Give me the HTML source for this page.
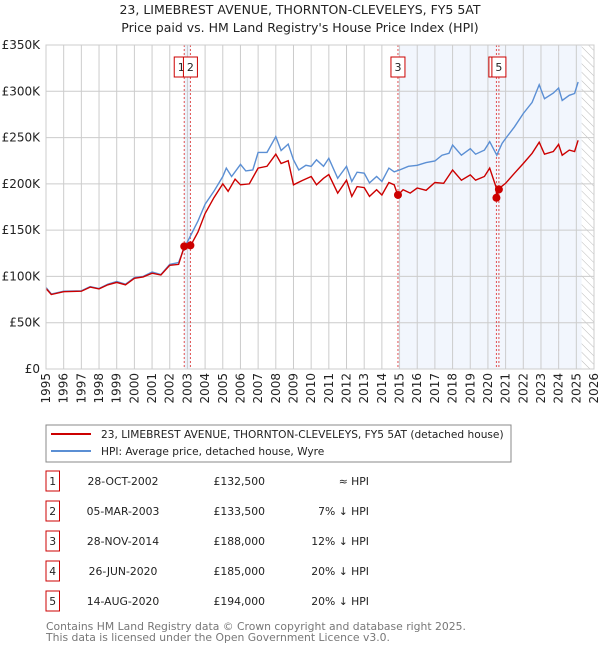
<!DOCTYPE html>
<html><head><meta charset="utf-8">
<style>
body{margin:0;background:#fff;font-family:"Liberation Sans","DejaVu Sans",sans-serif;}
svg text{font-family:"DejaVu Sans","Liberation Sans",sans-serif;}
</style></head>
<body>
<svg id="chart" width="600" height="650" xmlns="http://www.w3.org/2000/svg">
<text x="300" y="14" text-anchor="middle" font-size="12.5" fill="#222">23, LIMEBREST AVENUE, THORNTON-CLEVELEYS, FY5 5AT</text>
<text x="300" y="32" text-anchor="middle" font-size="12.5" fill="#222">Price paid vs. HM Land Registry's House Price Index (HPI)</text>
<g id="plot"></g>
<g id="legend">
<rect x="46" y="425" width="465" height="37" fill="#fff" stroke="#888"/>
<line x1="51" y1="434" x2="91" y2="434" stroke="#cc0000" stroke-width="2"/>
<text x="101" y="438" font-size="10.6" fill="#222">23, LIMEBREST AVENUE, THORNTON-CLEVELEYS, FY5 5AT (detached house)</text>
<line x1="51" y1="451" x2="91" y2="451" stroke="#5b8fd4" stroke-width="2"/>
<text x="101" y="455" font-size="10.6" fill="#222">HPI: Average price, detached house, Wyre</text>
</g>
<g id="table"></g>
<text x="46" y="630" font-size="10.8" fill="#777">Contains HM Land Registry data © Crown copyright and database right 2025.</text>
<text x="46" y="641" font-size="10.8" fill="#777">This data is licensed under the Open Government Licence v3.0.</text>
</svg>
<script>
const hpiT=[1995.0,1995.3,1996,1997,1997.5,1998,1998.5,1999,1999.5,2000,2000.5,2001,2001.5,2002,2002.5,2002.8,2003.2,2003.6,2004,2004.5,2005,2005.2,2005.5,2006,2006.3,2006.7,2007,2007.5,2008,2008.3,2008.7,2009,2009.3,2009.7,2010,2010.3,2010.7,2011,2011.5,2012,2012.3,2012.6,2013,2013.3,2013.7,2014,2014.4,2014.7,2015,2015.5,2016,2016.5,2017,2017.4,2017.8,2018,2018.5,2019,2019.3,2019.8,2020.1,2020.5,2020.8,2021,2021.5,2022,2022.5,2022.9,2023.2,2023.7,2024,2024.2,2024.6,2024.9,2025.1];
const hpiV=[88,81,84,84.5,89,87,91.6,94.5,91.6,98.8,100,104.8,102,113,115,130,145,160,178,192,208,217,208,221,214,215,234,234,251,236,243,226,215,220,219,226,219,227.6,206,219,202.6,212.6,211.5,201,208,202.6,217,213,215,219,220,223,224.7,231,233,242,231,238,232,236.5,245.5,231,243.7,249,261.6,276,288,307,292,298,303.6,290,295.7,297.6,310];
const redT=[1995.0,1995.3,1996,1997,1997.5,1998,1998.5,1999,1999.5,2000,2000.5,2001,2001.5,2002,2002.5,2002.8,2003.2,2003.6,2004,2004.5,2005,2005.3,2005.7,2006,2006.5,2007,2007.5,2008,2008.3,2008.7,2009,2009.5,2010,2010.3,2010.7,2011,2011.5,2012,2012.3,2012.6,2013,2013.3,2013.7,2014,2014.4,2014.7,2014.9,2015.2,2015.6,2016,2016.5,2017,2017.5,2018,2018.5,2019,2019.3,2019.8,2020.1,2020.45,2020.5,2020.6,2021,2021.5,2022,2022.5,2022.9,2023.2,2023.7,2024,2024.2,2024.6,2024.9,2025.1];
const redV=[87,80.5,83.5,84,88.5,86.5,91,93.5,91,98,99.5,103.5,101.5,112,113,131,134,148,168,185,200,192,205,199,200,217,219,232,222,225,199,203.6,208,199,206,210,190,204,186.5,197,196,186.5,193.7,188,201.5,199,187.5,193.7,190,195.5,193,201.5,200.6,215,204,209.7,204,208,217,197,185,194.6,200.6,211.5,222,233,245,232,235,242.6,231,236.5,235,247];
const saleLabels=["1","2","3","4","5"];
const saleT=[2002.82,2003.17,2014.91,2020.48,2020.62];
const saleV=[132.5,133.5,188,185,194];
const saleDates=["28-OCT-2002","05-MAR-2003","28-NOV-2014","26-JUN-2020","14-AUG-2020"];
const salePrices=["£132,500","£133,500","£188,000","£185,000","£194,000"];
const saleRel=["≈ HPI","7% ↓ HPI","12% ↓ HPI","20% ↓ HPI","20% ↓ HPI"];
const yTicks=[0,50,100,150,200,250,300,350];
const yTickLabels=["£0","£50K","£100K","£150K","£200K","£250K","£300K","£350K"];
const xYears=[1995,1996,1997,1998,1999,2000,2001,2002,2003,2004,2005,2006,2007,2008,2009,2010,2011,2012,2013,2014,2015,2016,2017,2018,2019,2020,2021,2022,2023,2024,2025,2026];

const X0=46,X1=594,Y0=369,Y1=45;
const xs=t=>X0+(t-1995)/(2026-1995)*(X1-X0);
const ys=v=>Y0-(v/350)*(Y0-Y1);
const NS="http://www.w3.org/2000/svg";
const plot=document.getElementById('plot');
function mk(tag,attrs,parent){const e=document.createElementNS(NS,tag);for(const k in attrs)e.setAttribute(k,attrs[k]);(parent||plot).appendChild(e);return e;}

let r=mk('rect',{x:xs(saleT[0]),y:Y1,width:xs(saleT[1])-xs(saleT[0]),height:Y0-Y1,fill:'#eef3fc'});


r=mk('rect',{x:xs(saleT[2]),y:Y1,width:xs(2025.3)-xs(saleT[2]),height:Y0-Y1,fill:'#f2f6fd'});


const defs=mk('defs',{});
const pat=mk('pattern',{id:'hatch',width:6,height:6,patternUnits:'userSpaceOnUse',patternTransform:'rotate(-45)'},defs);
mk('line',{x1:0,y1:0,x2:0,y2:6,stroke:'#bbb','stroke-width':1},pat);
r=mk('rect',{x:xs(2025.3),y:Y1,width:X1-xs(2025.3),height:Y0-Y1,fill:'url(#hatch)'});


yTicks.forEach((v,i)=>{
 const l=mk('line',{x1:X0,x2:X1,y1:ys(v),y2:ys(v),stroke:'#ccc','stroke-width':1});
 
 
 const t=mk('text',{x:X0-6,y:ys(v)+4,'text-anchor':'end','font-size':12,fill:'#222'});
 t.textContent=yTickLabels[i];
 
 
});
xYears.forEach(yr=>{
 const l=mk('line',{x1:xs(yr),x2:xs(yr),y1:Y1,y2:Y0,stroke:'#ccc','stroke-width':1});
 
 
 const t=mk('text',{x:0,y:0,'text-anchor':'end','font-size':12,fill:'#222',transform:`translate(${xs(yr)+4},${Y0+4}) rotate(-90)`});
 t.textContent=yr;
 
 
});
saleT.forEach((t,i)=>{
 const l=mk('line',{x1:xs(t),x2:xs(t),y1:Y1,y2:Y0,stroke:'#e05050','stroke-width':1,'stroke-dasharray':'2,2'});
 
 
});
function path(T,V){return T.map((t,i)=>(i?'L':'M')+xs(t).toFixed(1)+','+ys(V[i]).toFixed(1)).join('');}
let p=mk('path',{d:path(hpiT,hpiV),fill:'none',stroke:'#5b8fd4','stroke-width':1.4});


p=mk('path',{d:path(redT,redV),fill:'none',stroke:'#cc0000','stroke-width':1.4});


saleT.forEach((t,i)=>{
 const c=mk('circle',{cx:xs(t),cy:ys(saleV[i]),r:4,fill:'#cc0000'});
 
 
});
saleT.forEach((t,i)=>{
 if(i===3)return;
 const bx=xs(t)-(i===0?10:7);
 const g=mk('g',{});
 
 
 if(i===4) mk('rect',{x:bx-3,y:57,width:14,height:20,fill:'#fff',stroke:'#cc0000'},g);
 mk('rect',{x:bx,y:57,width:14,height:20,fill:'#fff',stroke:'#cc0000'},g);
 const tx=mk('text',{x:bx+7,y:71,'text-anchor':'middle','font-size':11,fill:'#222'},g);
 tx.textContent=saleLabels[i];
});
mk('rect',{x:X0,y:Y1,width:X1-X0,height:Y0-Y1,fill:'none',stroke:'#ccc'});
const tb=document.getElementById('table');
saleLabels.forEach((lab,i)=>{
 const y=483+i*30;
 const g=mk('g',{},tb);
 
 
 mk('rect',{x:46,y:y-12,width:13.5,height:20,fill:'#fff',stroke:'#cc0000'},g);
 let t=mk('text',{x:52.7,y:y+2,'text-anchor':'middle','font-size':10.8,fill:'#222'},g);t.textContent=lab;
 t=mk('text',{x:123,y:y+2,'text-anchor':'middle','font-size':10.8,fill:'#222'},g);t.textContent=saleDates[i];
 t=mk('text',{x:265,y:y+2,'text-anchor':'end','font-size':10.8,fill:'#222'},g);t.textContent=salePrices[i];
 t=mk('text',{x:369,y:y+2,'text-anchor':'end','font-size':10.8,fill:'#222'},g);t.textContent=saleRel[i];
});
</script>
</body></html>
